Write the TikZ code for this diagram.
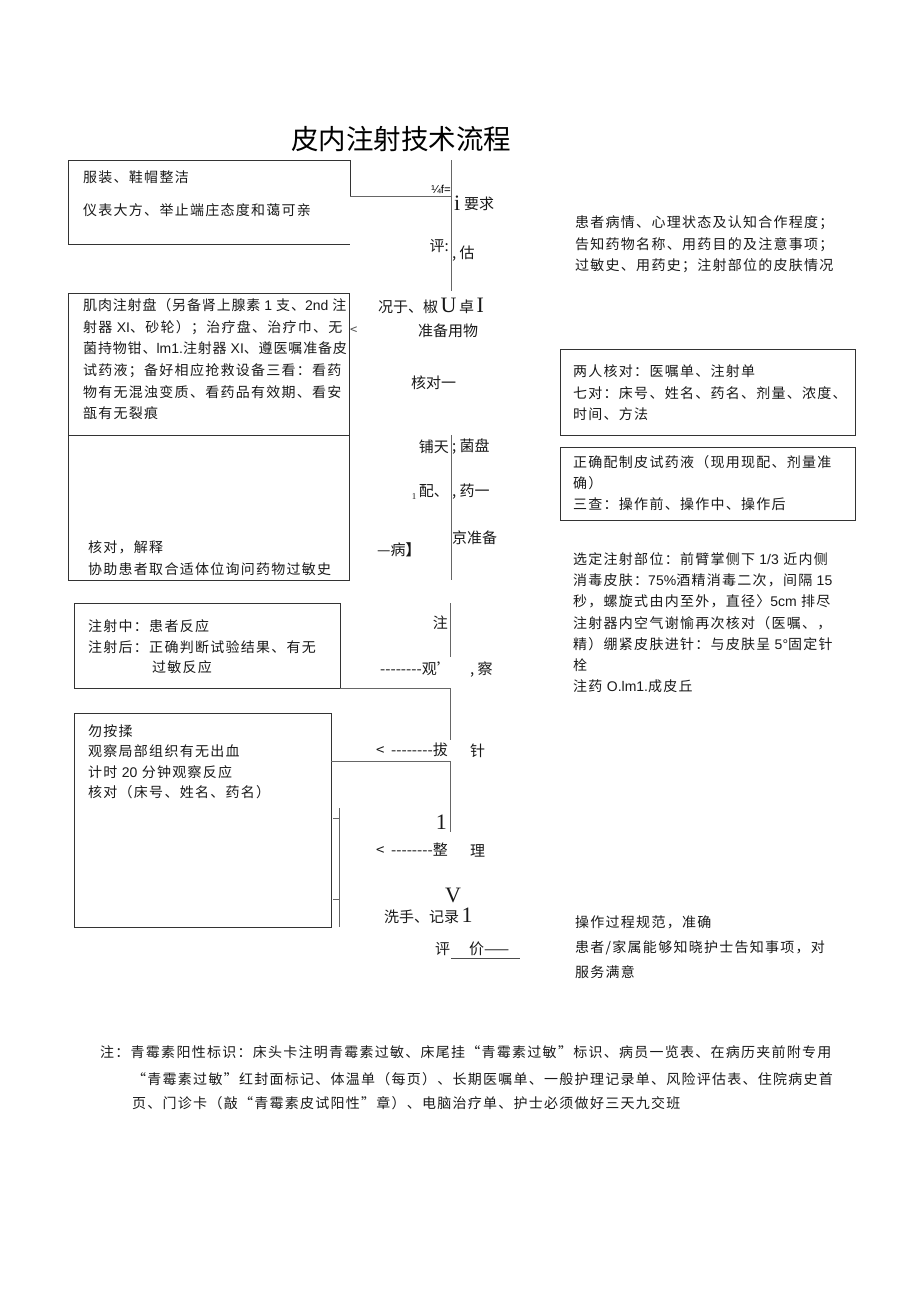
\documentclass[tikz,border=0pt]{standalone}
\usepackage{fontspec}
\setmainfont{Liberation Serif}
\newfontfamily\cjk{Noto Sans CJK SC}
\newfontfamily\cjkb[LetterSpace=9]{Noto Sans CJK SC}
\newfontfamily\cjkc[LetterSpace=6]{Noto Sans CJK SC}
\newfontfamily\lat{Liberation Sans}
\newcommand{\la}[1]{{\lat #1}}
\tikzset{
  txt/.style={inner sep=0pt, anchor=north west, align=left, text=black!90,
    font=\cjkb\fontsize{14}{21.6}\selectfont},
  lab/.style={inner sep=0pt, text=black!90, font=\cjk\fontsize{15}{18}\selectfont},
  bigs/.style={inner sep=0pt, text=black!90, font=\fontsize{22}{24}\selectfont},
  box/.style={draw=black!80, line width=0.9pt},
  ln/.style={draw=black!60, line width=1pt},
}
\begin{document}
\begin{tikzpicture}[x=1pt,y=-1pt]
\useasboundingbox (0,0) rectangle (920,1301);
% title
\node[inner sep=0pt, font=\cjk\fontsize{27.5}{30}\selectfont] (title) at (401,139) {皮内注射技术流程};

% box 1
\draw[box] (350,196) -- (350,160) -- (68,160) -- (68,244) -- (350,244);
\node[txt] (b1) at (83,170.5) {服装、鞋帽整洁\\[11pt]仪表大方、举止端庄态度和蔼可亲};
\draw[ln] (350,196) -- (451,196);
\node[inner sep=0pt, font=\lat\fontsize{11.5}{12}\selectfont, anchor=east] (qf) at (451,189) {¼f=};
\draw[ln] (451,160) -- (451,291);
\node[bigs, anchor=west] (ii) at (454,203) {i};
\node[lab, anchor=west] (yq) at (464,204) {要求};
\node[lab, anchor=east] (ping) at (449,246) {评:};
\node[lab, anchor=west] (gu) at (452,254) {, 估};

% box 2
\draw[box] (68,293) rectangle (349,580);
\draw[box] (68,435) -- (349,435);
\node[txt] (b2) at (83,298.5) {{\cjkc 肌肉注射盘（另备肾上腺素 \la{1} 支、\la{2nd} 注}\\射器 \la{XI}、砂轮）；治疗盘、治疗巾、无\\{\cjkc 菌持物钳、\la{lm1.}注射器 \la{XI}、遵医嘱准备皮}\\试药液；备好相应抢救设备三看：看药\\物有无混浊变质、看药品有效期、看安\\瓿有无裂痕};
\node[txt] (b2b) at (88,540) {核对，解释\\[0.4pt]协助患者取合适体位询问药物过敏史};
\node[inner sep=0pt, font=\cjk\fontsize{13}{14}\selectfont, anchor=west, text=black!70] (lt1) at (350,331) {<};

\node[lab, anchor=west] (kuang) at (378,306) {况于、椒\,{\fontsize{22}{24}\selectfont\rmfamily U}\,卓\,{\fontsize{22}{24}\selectfont\rmfamily I}};
\node[lab, anchor=west] (zbyw) at (418,331) {准备用物};
\node[lab, anchor=west] (hd) at (411,383) {核对一};

\draw[ln] (451,435) -- (451,580);
\node[lab, anchor=east] (pt) at (449,447) {铺天};
\node[lab, anchor=west] (jp) at (452,447) {; 菌盘};
\node[lab, anchor=east] (pei) at (449,492) {{\fontsize{9}{10}\selectfont\rmfamily\raisebox{-3pt}{1}}\,配、};
\node[lab, anchor=west] (yao) at (452,492) {, 药一};
\node[lab, anchor=west] (jzb) at (452,538) {京准备};
\node[lab, anchor=west] (bing) at (377,550) {—病\textbf{】}};

% right texts
\node[txt] (r1) at (575,215.5) {患者病情、心理状态及认知合作程度；\\告知药物名称、用药目的及注意事项；\\过敏史、用药史；注射部位的皮肤情况};
\draw[box] (560,349) rectangle (855,435);
\node[txt, font=\cjkb\fontsize{14}{21.5}\selectfont] (r2) at (573,364.5) {两人核对：医嘱单、注射单\\七对：床号、姓名、药名、剂量、浓度、\\时间、方法};
\draw[box] (560,447) rectangle (855,520);
\node[txt, font=\cjkb\fontsize{14}{21}\selectfont] (r3) at (573,455.5) {正确配制皮试药液（现用现配、剂量准\\确）\\三查：操作前、操作中、操作后};
\node[txt, font=\cjkb\fontsize{14}{21.2}\selectfont] (r4) at (573,552.5) {选定注射部位：前臂掌侧下 \la{1/3} 近内侧\\消毒皮肤：\la{75\%}酒精消毒二次，间隔 \la{15}\\秒，螺旋式由内至外，直径〉\la{5cm} 排尽\\注射器内空气谢愉再次核对（医嘱、，\\精）绷紧皮肤进针：与皮肤呈 \la{5°}固定针\\栓\\注药 \la{O.lm1.}成皮丘};

% box 3
\draw[box] (74,603) rectangle (340,688);
\node[txt, font=\cjkb\fontsize{14}{20.5}\selectfont] (b3) at (88,619.5) {注射中：患者反应\\注射后：正确判断试验结果、有无\\\hspace*{64pt}过敏反应};
\draw[ln] (340,688) -- (450,688) -- (450,740);
\draw[ln] (450,603) -- (450,657);
\node[lab, anchor=east] (zhu) at (448,623) {注};
\node[lab, anchor=east] (guan) at (452,669) {--------观’};
\node[lab, anchor=west] (cha) at (470,670) {, 察};

% box 4
\draw[box] (74,713) rectangle (331,927);
\node[txt, font=\cjkb\fontsize{14}{20.4}\selectfont] (b4) at (88,724.5) {勿按揉\\观察局部组织有无出血\\计时 \la{20} 分钟观察反应\\核对（床号、姓名、药名）};
\draw[ln] (331,761) -- (450,761) -- (450,832);
\node[lab, anchor=east] (ba) at (448,750) {<\ \ --------拔};
\node[lab, anchor=west] (zhen) at (470,751) {针};
\node[bigs, anchor=east] (one) at (447,822) {1};
\node[lab, anchor=east] (zheng) at (448,850) {<\ \ --------整};
\node[lab, anchor=west] (li) at (470,851) {理};
\draw[ln] (339,808) -- (339,927);
\draw[ln] (333,818) -- (339,818);
\draw[ln] (333,899) -- (339,899);
\node[bigs, anchor=center] (vv) at (453,895) {V};
\node[lab, anchor=west] (xs) at (384,916) {洗手、记录\,{\fontsize{22}{24}\selectfont\rmfamily 1}};
\node[lab, anchor=west] (pj) at (435,949) {评};
\node[lab, anchor=west] (jia) at (469,949) {价——};
\draw[draw=black!70, line width=0.9pt] (451,958) -- (520,958);

\node[txt, font=\cjkb\fontsize{14}{25}\selectfont] (r5) at (575,915.5) {操作过程规范，准确\\患者/家属能够知晓护士告知事项，对\\服务满意};

% note
\node[txt, font=\cjkb\fontsize{14}{24}\selectfont] (n1) at (100,1045.5) {注：青霉素阳性标识：床头卡注明青霉素过敏、床尾挂“青霉素过敏”标识、病员一览表、在病历夹前附专用};
\node[txt, font=\cjkb\fontsize{14}{24}\selectfont] (n2) at (132,1072.5) {“青霉素过敏”红封面标记、体温单（每页）、长期医嘱单、一般护理记录单、风险评估表、住院病史首\\页、门诊卡（敲“青霉素皮试阳性”章）、电脑治疗单、护士必须做好三天九交班};
\end{tikzpicture}
\end{document}
